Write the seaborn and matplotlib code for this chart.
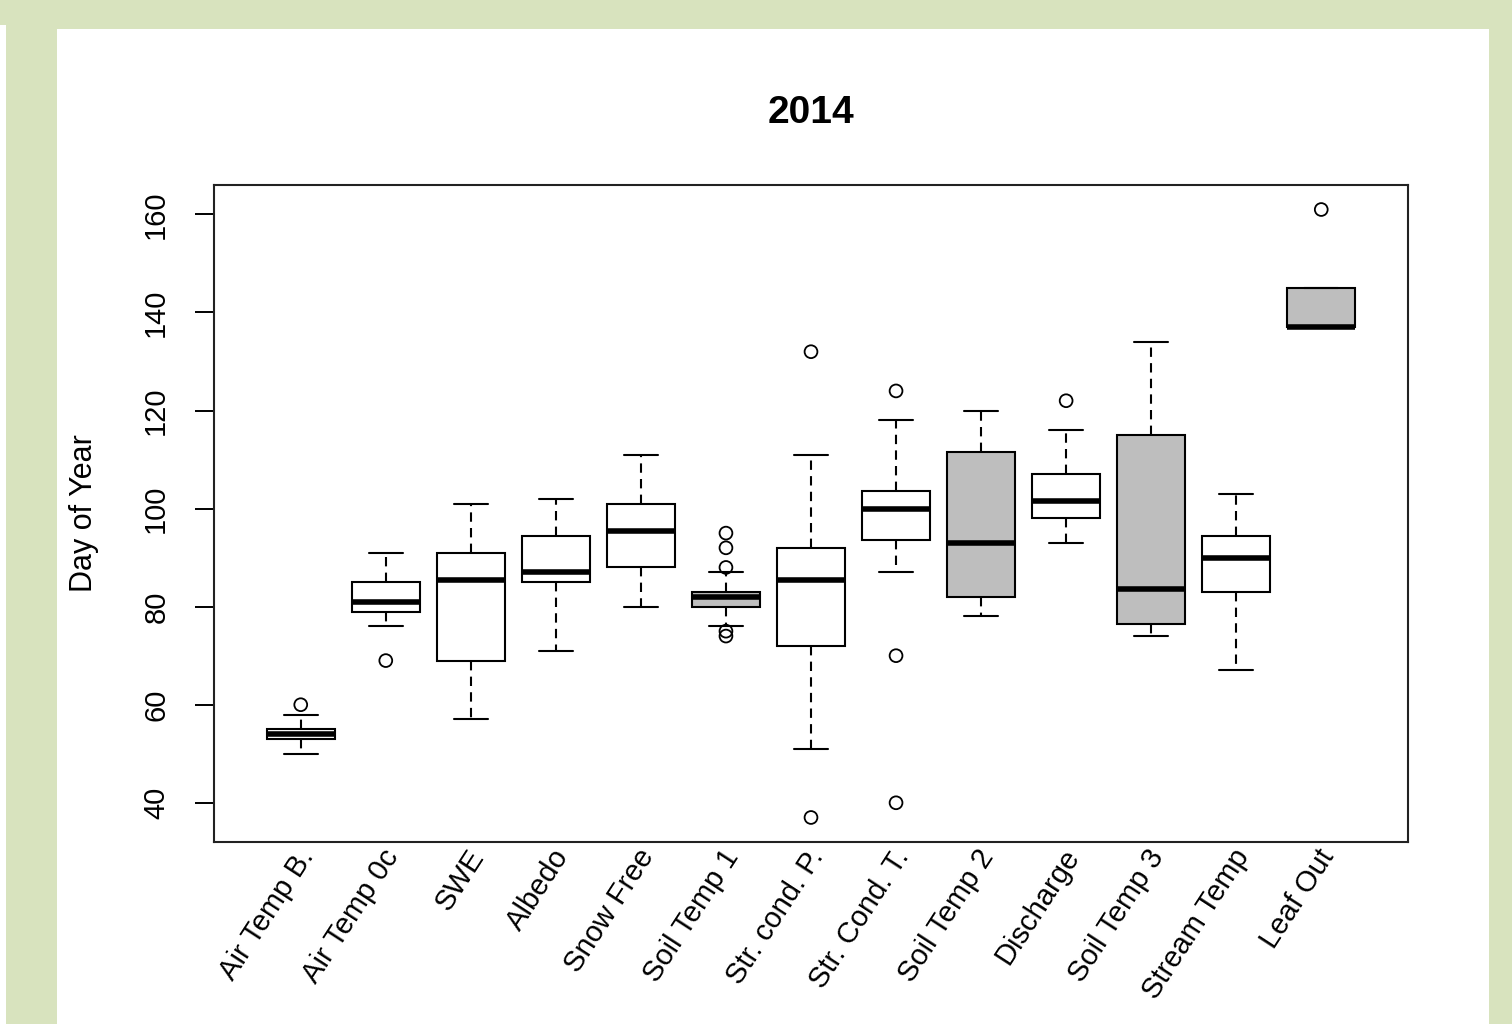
import numpy as np
import pandas as pd
import matplotlib
matplotlib.use("Agg")
import matplotlib.pyplot as plt
import matplotlib.transforms as mtransforms
from matplotlib.patches import Rectangle
import seaborn as sns

# Day-of-year summaries per indicator (2014)
categories = ["Air Temp B.", "Air Temp 0c", "SWE", "Albedo", "Snow Free", "Soil Temp 1",
              "Str. cond. P.", "Str. Cond. T.", "Soil Temp 2", "Discharge", "Soil Temp 3",
              "Stream Temp", "Leaf Out"]
whisker_low = [50, 76, 57, 71, 80, 76, 51, 87, 78, 93, 74, 67, 137]
lower_hinge = [53, 79, 69, 85, 88, 80, 72, 93.5, 82, 98, 76.5, 83, 137]
medians = [54, 81, 85.5, 87, 95.5, 82, 85.5, 100, 93, 101.5, 83.5, 90, 137]
upper_hinge = [55, 85, 91, 94.5, 101, 83, 92, 103.5, 111.5, 107, 115, 94.5, 145]
whisker_high = [58, 91, 101, 102, 111, 87, 111, 118, 120, 116, 134, 103, 145]
outliers = [[60], [69], [], [], [], [95, 92, 88, 75, 74], [132, 37], [124, 70, 40],
            [], [122], [], [], [161]]
soil_and_leaf = ["Soil Temp 1", "Soil Temp 2", "Soil Temp 3", "Leaf Out"]

title = "2014"
y_label = "Day of Year"
y_ticks = [40, 60, 80, 100, 120, 140, 160]

# Long-form table: five summary values per group, so the 0/25/50/75/100th
# percentiles are exactly whisker, hinge, median, hinge, whisker
rows = []
for i, cat in enumerate(categories):
    for v in (whisker_low[i], lower_hinge[i], medians[i], upper_hinge[i], whisker_high[i]):
        rows.append({"group": cat, "day": v})
box_df = pd.DataFrame(rows)

out_rows = []
for i, cat in enumerate(categories):
    for v in outliers[i]:
        out_rows.append({"pos": i, "day": v})
out_df = pd.DataFrame(out_rows)

palette = {c: ("#bebebe" if c in soil_and_leaf else "white") for c in categories}

sns.set_theme(style="white")
plt.rcParams["font.family"] = ["Liberation Sans", "DejaVu Sans"]
plt.rcParams["text.color"] = "black"
plt.rcParams["axes.labelcolor"] = "black"
plt.rcParams["xtick.color"] = "black"
plt.rcParams["ytick.color"] = "black"

W, H, DPI = 1512, 1024, 100
fig = plt.figure(figsize=(W / DPI, H / DPI), dpi=DPI)
fig.patch.set_facecolor("#d8e3be")
# white page panel
fig.add_artist(Rectangle((57 / W, 0), (1489 - 57) / W, (1024 - 29) / H,
                         transform=fig.transFigure, facecolor="white",
                         edgecolor="none", zorder=-10))
fig.add_artist(Rectangle((0, 0), 6 / W, (1024 - 25) / H,
                         transform=fig.transFigure, facecolor="white",
                         edgecolor="none", zorder=-10))

ax = fig.add_axes([214 / W, 1 - 842 / H, (1408 - 214) / W, (842 - 185) / H])
ax.set_facecolor("white")

sns.boxplot(data=box_df, x="group", y="day", hue="group", order=categories,
            hue_order=categories, palette=palette, saturation=1, legend=False,
            whis=(0, 100), width=0.8, linecolor="black", linewidth=1.5,
            fliersize=0, ax=ax,
            medianprops={"linewidth": 4.0, "solid_capstyle": "butt"},
            whiskerprops={"linestyle": (0, (4.5, 3.0)), "linewidth": 1.5},
            capprops={"linestyle": "-", "linewidth": 1.5})

sns.scatterplot(data=out_df, x="pos", y="day", marker="o", s=85,
                facecolor="none", edgecolor="black", linewidth=1.3,
                ax=ax, zorder=5, legend=False)

ax.set_xlim(-1.02, 13.02)
ax.set_ylim(32.0, 166.0)
ax.set_xticks(range(len(categories)))
ax.set_xticklabels(categories, rotation=57, ha="right", va="center",
                   rotation_mode="anchor", fontsize=21)
ax.tick_params(axis="x", length=0, pad=7)
shift = mtransforms.ScaledTranslation(7 / DPI, 0, fig.dpi_scale_trans)
for lbl in ax.get_xticklabels():
    lbl.set_transform(lbl.get_transform() + shift)
ax.set_yticks(y_ticks)
ax.set_yticklabels([str(t) for t in y_ticks], rotation=90, va="center", fontsize=21)
ax.tick_params(axis="y", length=13.5, width=1.4, color="black", pad=18, left=True)

ax.set_xlabel("")
ax.set_ylabel(y_label, fontsize=22)
ax.yaxis.set_label_coords(-0.096, 0.5)

for sp in ax.spines.values():
    sp.set_visible(True)
    sp.set_color("#222222")
    sp.set_linewidth(1.5)

fig.text((214 + 1408) / 2 / W, 1 - 123 / H, title, ha="center", va="baseline",
         fontsize=28, fontweight="bold", color="black")

fig.savefig("out.png", dpi=DPI, facecolor=fig.get_facecolor())
